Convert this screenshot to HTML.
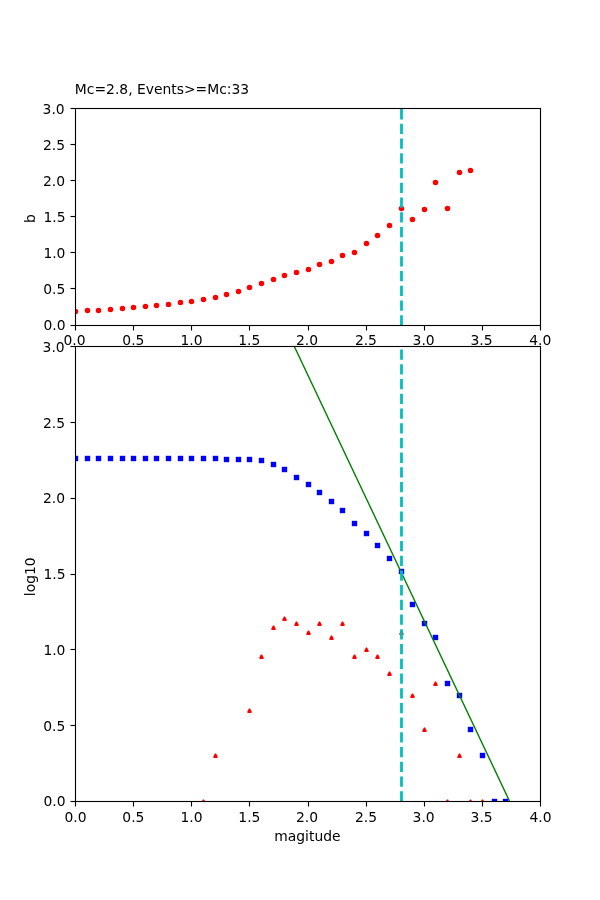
<!DOCTYPE html>
<html><head><meta charset="utf-8"><title>Mc=2.8, Events&gt;=Mc:33</title>
<style>html,body{margin:0;padding:0;background:#fff;width:600px;height:900px;overflow:hidden}svg{display:block}</style>
</head><body>
<svg width="600" height="900" viewBox="0 0 600 900" version="1.1">
<defs>
<clipPath id="c1"><rect x="75" y="108" width="465" height="217"/></clipPath>
<clipPath id="c2"><rect x="75" y="346" width="465" height="455"/></clipPath>
</defs>
<rect x="0" y="0" width="600" height="900" fill="#ffffff"/>
<rect x="75" y="108" width="465" height="217" fill="#ffffff"/>
<path d="M74.944 325.5H76.056V330.5H74.944ZM132.944 325.5H134.056V330.5H132.944ZM190.944 325.5H192.056V330.5H190.944ZM248.944 325.5H250.056V330.5H248.944ZM307.944 325.5H309.056V330.5H307.944ZM365.944 325.5H367.056V330.5H365.944ZM423.944 325.5H425.056V330.5H423.944ZM481.944 325.5H483.056V330.5H481.944ZM539.944 325.5H541.056V330.5H539.944ZM70.5 325H75.5V326H70.5ZM70.5 288H75.5V289H70.5ZM70.5 252H75.5V253H70.5ZM70.5 216H75.5V217H70.5ZM70.5 180H75.5V181H70.5ZM70.5 144H75.5V145H70.5ZM70.5 108H75.5V109H70.5Z" fill="#000"/>
<g style="font-family:'DejaVu Sans','Liberation Sans',sans-serif;font-size:13.8889px;fill:#000">
<text x="74.43" y="345.228" text-anchor="middle">0.0</text>
<text x="133.365" y="345.358" text-anchor="middle">0.5</text>
<text x="191.53" y="345.278" text-anchor="middle">1.0</text>
<text x="249.275" y="345.308" text-anchor="middle">1.5</text>
<text x="307.01" y="345.258" text-anchor="middle">2.0</text>
<text x="365.915" y="345.288" text-anchor="middle">2.5</text>
<text x="423.62" y="345.248" text-anchor="middle">3.0</text>
<text x="481.585" y="345.268" text-anchor="middle">3.5</text>
<text x="540.35" y="345.078" text-anchor="middle">4.0</text>
<text x="65.498" y="330.019" text-anchor="end">0.0</text>
<text x="65.318" y="293.925" text-anchor="end">0.5</text>
<text x="65.468" y="257.742" text-anchor="end">1.0</text>
<text x="65.528" y="221.658" text-anchor="end">1.5</text>
<text x="65.108" y="185.554" text-anchor="end">2.0</text>
<text x="65.018" y="150.46" text-anchor="end">2.5</text>
<text x="64.678" y="114.347" text-anchor="end">3.0</text>
<text x="34.736" y="218.561" text-anchor="middle" transform="rotate(-90 34.736 218.561)">b</text>
</g>
<g clip-path="url(#c1)" fill="#ff0000" stroke="#ff0000" stroke-width="1.389">
<circle cx="75.5" cy="311.5" r="2.083"/>
<circle cx="87.5" cy="310.5" r="2.083"/>
<circle cx="98.5" cy="310.5" r="2.083"/>
<circle cx="110.5" cy="309.5" r="2.083"/>
<circle cx="122.5" cy="308.5" r="2.083"/>
<circle cx="133.5" cy="307.5" r="2.083"/>
<circle cx="145.5" cy="306.5" r="2.083"/>
<circle cx="156.5" cy="305.5" r="2.083"/>
<circle cx="168.5" cy="304.5" r="2.083"/>
<circle cx="180.5" cy="302.5" r="2.083"/>
<circle cx="191.5" cy="301.5" r="2.083"/>
<circle cx="203.5" cy="299.5" r="2.083"/>
<circle cx="215.5" cy="297.5" r="2.083"/>
<circle cx="226.5" cy="294.5" r="2.083"/>
<circle cx="238.5" cy="291.5" r="2.083"/>
<circle cx="249.5" cy="287.5" r="2.083"/>
<circle cx="261.5" cy="283.5" r="2.083"/>
<circle cx="273.5" cy="279.5" r="2.083"/>
<circle cx="284.5" cy="275.5" r="2.083"/>
<circle cx="296.5" cy="272.5" r="2.083"/>
<circle cx="308.5" cy="269.5" r="2.083"/>
<circle cx="319.5" cy="264.5" r="2.083"/>
<circle cx="331.5" cy="261.5" r="2.083"/>
<circle cx="342.5" cy="255.5" r="2.083"/>
<circle cx="354.5" cy="252.5" r="2.083"/>
<circle cx="366.5" cy="243.5" r="2.083"/>
<circle cx="377.5" cy="235.5" r="2.083"/>
<circle cx="389.5" cy="225.5" r="2.083"/>
<circle cx="401.5" cy="208.5" r="2.083"/>
<circle cx="412.5" cy="219.5" r="2.083"/>
<circle cx="424.5" cy="209.5" r="2.083"/>
<circle cx="435.5" cy="182.5" r="2.083"/>
<circle cx="447.5" cy="208.5" r="2.083"/>
<circle cx="459.5" cy="172.5" r="2.083"/>
<circle cx="470.5" cy="170.5" r="2.083"/>
</g>
<path d="M401.5 325.5V108.5" clip-path="url(#c1)" fill="none" stroke="#00bfbf" stroke-width="2.778" stroke-dasharray="10.278 4.444"/>
<path d="M74.944 107.944H76.056V326.056H74.944ZM539.944 107.944H541.056V326.056H539.944ZM74.944 325H541.056V326H74.944ZM74.944 108H541.056V109H74.944Z" fill="#000"/>
<path d="M70.5 324H75.5V325H70.5ZM70.5 326H75.5V327H70.5ZM70.5 287H75.5V288H70.5ZM70.5 289H75.5V290H70.5ZM70.5 251H75.5V252H70.5ZM70.5 253H75.5V254H70.5ZM70.5 215H75.5V216H70.5ZM70.5 217H75.5V218H70.5ZM70.5 179H75.5V180H70.5ZM70.5 181H75.5V182H70.5ZM70.5 143H75.5V144H70.5ZM70.5 145H75.5V146H70.5ZM70.5 107H75.5V108H70.5ZM70.5 109H75.5V110H70.5ZM74.944 324H541.056V325H74.944ZM74.944 326H541.056V327H74.944ZM74.944 107H541.056V108H74.944ZM74.944 109H541.056V110H74.944Z" fill="#000" fill-opacity="0.056"/>
<g style="font-family:'DejaVu Sans','Liberation Sans',sans-serif;font-size:13.8889px;fill:#000">
<text x="74.85" y="93.562" text-anchor="start">Mc=2.8, Events&gt;=Mc:33</text>
</g>
<rect x="75" y="346" width="465" height="455" fill="#ffffff"/>
<path d="M74.944 801.5H76.056V806.5H74.944ZM132.944 801.5H134.056V806.5H132.944ZM190.944 801.5H192.056V806.5H190.944ZM248.944 801.5H250.056V806.5H248.944ZM307.944 801.5H309.056V806.5H307.944ZM365.944 801.5H367.056V806.5H365.944ZM423.944 801.5H425.056V806.5H423.944ZM481.944 801.5H483.056V806.5H481.944ZM539.944 801.5H541.056V806.5H539.944ZM70.5 801H75.5V802H70.5ZM70.5 725H75.5V726H70.5ZM70.5 649H75.5V650H70.5ZM70.5 574H75.5V575H70.5ZM70.5 498H75.5V499H70.5ZM70.5 422H75.5V423H70.5ZM70.5 346H75.5V347H70.5Z" fill="#000"/>
<g style="font-family:'DejaVu Sans','Liberation Sans',sans-serif;font-size:13.8889px;fill:#000">
<text x="75.47" y="822.456" text-anchor="middle">0.0</text>
<text x="133.405" y="822.456" text-anchor="middle">0.5</text>
<text x="191.44" y="822.366" text-anchor="middle">1.0</text>
<text x="249.395" y="822.366" text-anchor="middle">1.5</text>
<text x="307.08" y="822.356" text-anchor="middle">2.0</text>
<text x="365.955" y="822.366" text-anchor="middle">2.5</text>
<text x="423.66" y="822.336" text-anchor="middle">3.0</text>
<text x="481.605" y="822.336" text-anchor="middle">3.5</text>
<text x="540.44" y="822.316" text-anchor="middle">4.0</text>
<text x="65.498" y="806.457" text-anchor="end">0.0</text>
<text x="65.318" y="730.66" text-anchor="end">0.5</text>
<text x="65.468" y="654.773" text-anchor="end">1.0</text>
<text x="65.528" y="578.986" text-anchor="end">1.5</text>
<text x="65.108" y="503.179" text-anchor="end">2.0</text>
<text x="65.018" y="428.382" text-anchor="end">2.5</text>
<text x="64.648" y="351.555" text-anchor="end">3.0</text>
<text x="34.746" y="576.749" text-anchor="middle" transform="rotate(-90 34.746 576.749)">log10</text>
<text x="307.42" y="841.333" text-anchor="middle">magitude</text>
</g>
<g clip-path="url(#c2)" fill="#0000ff" stroke="#0000ff" stroke-width="1.389" stroke-linejoin="miter">
<rect x="73.5" y="456.5" width="4" height="4"/>
<rect x="85.5" y="456.5" width="4" height="4"/>
<rect x="96.5" y="456.5" width="4" height="4"/>
<rect x="108.5" y="456.5" width="4" height="4"/>
<rect x="120.5" y="456.5" width="4" height="4"/>
<rect x="131.5" y="456.5" width="4" height="4"/>
<rect x="143.5" y="456.5" width="4" height="4"/>
<rect x="154.5" y="456.5" width="4" height="4"/>
<rect x="166.5" y="456.5" width="4" height="4"/>
<rect x="178.5" y="456.5" width="4" height="4"/>
<rect x="189.5" y="456.5" width="4" height="4"/>
<rect x="201.5" y="456.5" width="4" height="4"/>
<rect x="213.5" y="456.5" width="4" height="4"/>
<rect x="224.5" y="457.5" width="4" height="4"/>
<rect x="236.5" y="457.5" width="4" height="4"/>
<rect x="247.5" y="457.5" width="4" height="4"/>
<rect x="259.5" y="458.5" width="4" height="4"/>
<rect x="271.5" y="462.5" width="4" height="4"/>
<rect x="282.5" y="467.5" width="4" height="4"/>
<rect x="294.5" y="475.5" width="4" height="4"/>
<rect x="306.5" y="482.5" width="4" height="4"/>
<rect x="317.5" y="490.5" width="4" height="4"/>
<rect x="329.5" y="499.5" width="4" height="4"/>
<rect x="340.5" y="508.5" width="4" height="4"/>
<rect x="352.5" y="521.5" width="4" height="4"/>
<rect x="364.5" y="531.5" width="4" height="4"/>
<rect x="375.5" y="543.5" width="4" height="4"/>
<rect x="387.5" y="556.5" width="4" height="4"/>
<rect x="399.5" y="569.5" width="4" height="4"/>
<rect x="410.5" y="602.5" width="4" height="4"/>
<rect x="422.5" y="621.5" width="4" height="4"/>
<rect x="433.5" y="635.5" width="4" height="4"/>
<rect x="445.5" y="681.5" width="4" height="4"/>
<rect x="457.5" y="693.5" width="4" height="4"/>
<rect x="468.5" y="727.5" width="4" height="4"/>
<rect x="480.5" y="753.5" width="4" height="4"/>
<rect x="492.5" y="799.5" width="4" height="4"/>
<rect x="503.5" y="799.5" width="4" height="4"/>
</g>
<g clip-path="url(#c2)" fill="#ff0000" stroke="#ff0000" stroke-width="1.389" stroke-linejoin="bevel">
<path d="M203.5 799.764L201.764 803.236L205.236 803.236Z"/>
<path d="M215.5 753.764L213.764 757.236L217.236 757.236Z"/>
<path d="M249.5 708.764L247.764 712.236L251.236 712.236Z"/>
<path d="M261.5 654.764L259.764 658.236L263.236 658.236Z"/>
<path d="M273.5 625.764L271.764 629.236L275.236 629.236Z"/>
<path d="M284.5 616.764L282.764 620.236L286.236 620.236Z"/>
<path d="M296.5 621.764L294.764 625.236L298.236 625.236Z"/>
<path d="M308.5 630.764L306.764 634.236L310.236 634.236Z"/>
<path d="M319.5 621.764L317.764 625.236L321.236 625.236Z"/>
<path d="M331.5 635.764L329.764 639.236L333.236 639.236Z"/>
<path d="M342.5 621.764L340.764 625.236L344.236 625.236Z"/>
<path d="M354.5 654.764L352.764 658.236L356.236 658.236Z"/>
<path d="M366.5 647.764L364.764 651.236L368.236 651.236Z"/>
<path d="M377.5 654.764L375.764 658.236L379.236 658.236Z"/>
<path d="M389.5 671.764L387.764 675.236L391.236 675.236Z"/>
<path d="M401.5 630.764L399.764 634.236L403.236 634.236Z"/>
<path d="M412.5 693.764L410.764 697.236L414.236 697.236Z"/>
<path d="M424.5 727.764L422.764 731.236L426.236 731.236Z"/>
<path d="M435.5 681.764L433.764 685.236L437.236 685.236Z"/>
<path d="M447.5 799.764L445.764 803.236L449.236 803.236Z"/>
<path d="M459.5 753.764L457.764 757.236L461.236 757.236Z"/>
<path d="M470.5 799.764L468.764 803.236L472.236 803.236Z"/>
<path d="M482.5 799.764L480.764 803.236L484.236 803.236Z"/>
</g>
<path d="M75 -116.826L540 865.501" clip-path="url(#c2)" fill="none" stroke="#008000" stroke-width="1.389" stroke-linecap="square"/>
<path d="M401.5 801.5V346.5" clip-path="url(#c2)" fill="none" stroke="#00bfbf" stroke-width="2.778" stroke-dasharray="10.278 4.444"/>
<path d="M74.944 345.944H76.056V802.056H74.944ZM539.944 345.944H541.056V802.056H539.944ZM74.944 801H541.056V802H74.944ZM74.944 346H541.056V347H74.944Z" fill="#000"/>
<path d="M70.5 800H75.5V801H70.5ZM70.5 802H75.5V803H70.5ZM70.5 724H75.5V725H70.5ZM70.5 726H75.5V727H70.5ZM70.5 648H75.5V649H70.5ZM70.5 650H75.5V651H70.5ZM70.5 573H75.5V574H70.5ZM70.5 575H75.5V576H70.5ZM70.5 497H75.5V498H70.5ZM70.5 499H75.5V500H70.5ZM70.5 421H75.5V422H70.5ZM70.5 423H75.5V424H70.5ZM70.5 345H75.5V346H70.5ZM70.5 347H75.5V348H70.5ZM74.944 800H541.056V801H74.944ZM74.944 802H541.056V803H74.944ZM74.944 345H541.056V346H74.944ZM74.944 347H541.056V348H74.944Z" fill="#000" fill-opacity="0.056"/>
</svg>
</body></html>
